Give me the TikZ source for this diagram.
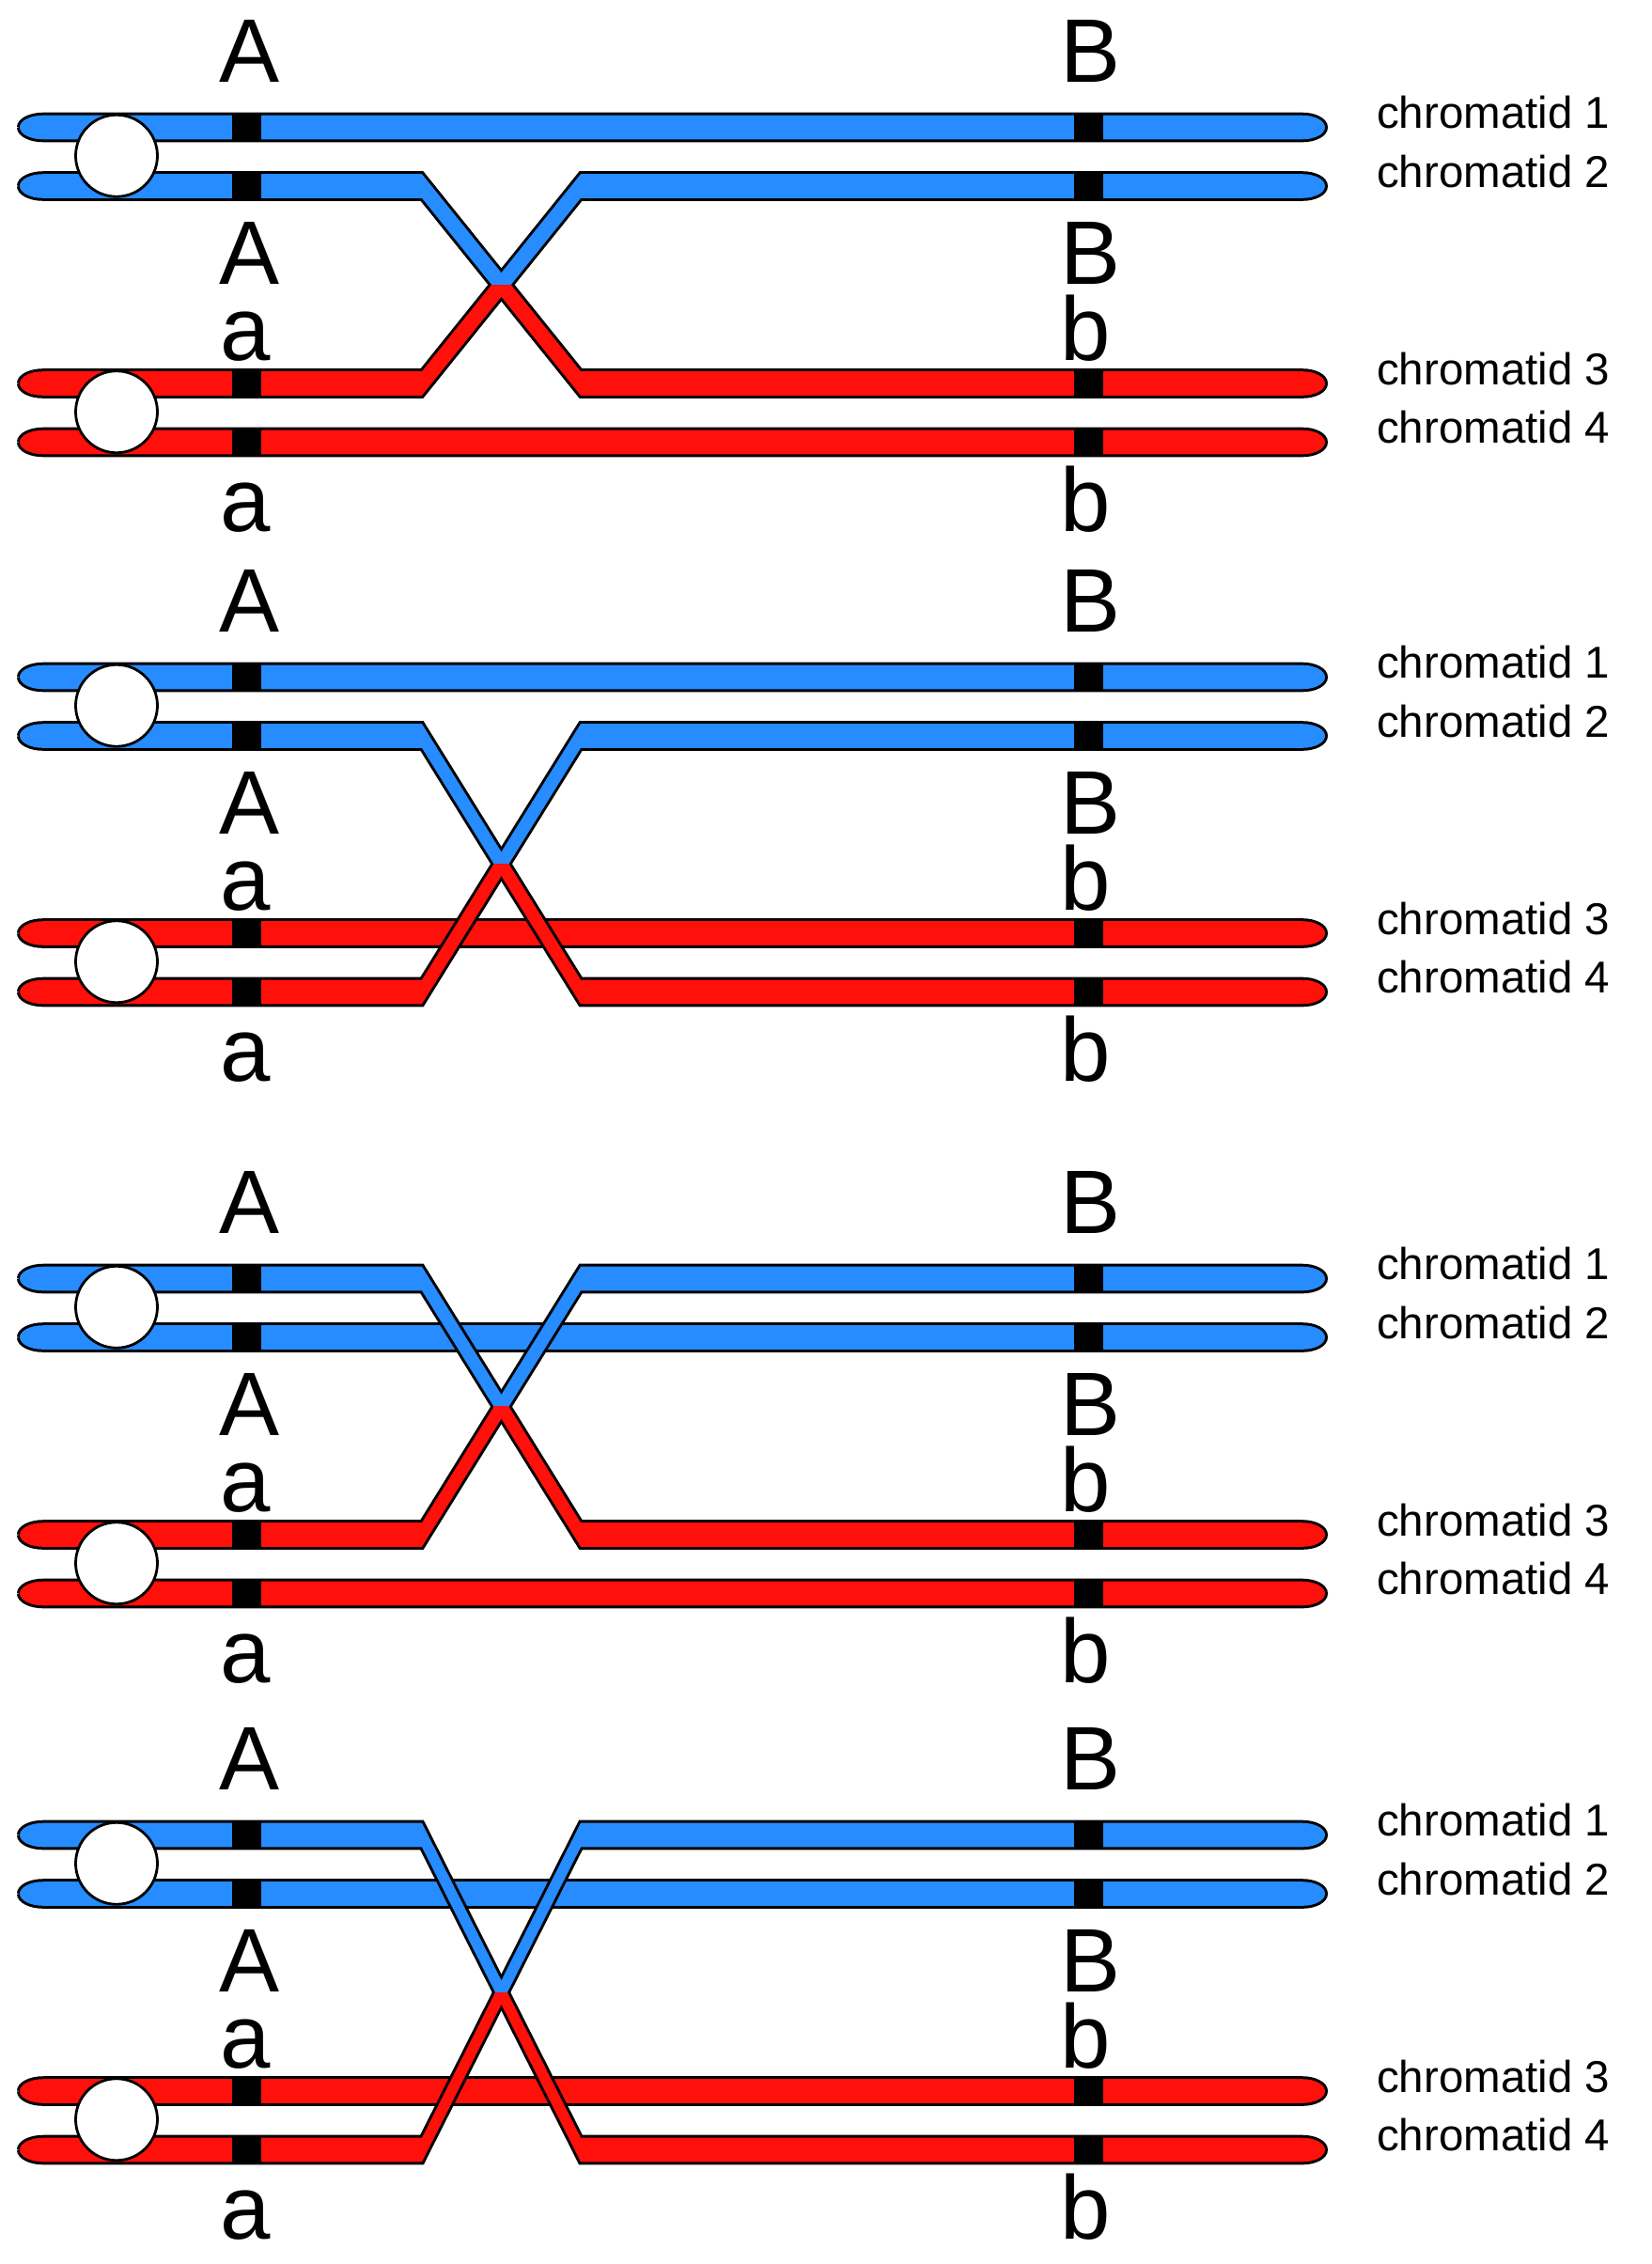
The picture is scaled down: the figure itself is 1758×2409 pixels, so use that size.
\documentclass[tikz,border=0pt]{standalone}
\usepackage{fontspec}
\setmainfont{Liberation Sans}
\definecolor{cblue}{RGB}{38,140,255}
\definecolor{cred}{RGB}{255,16,10}
\tikzset{
  outl/.style={draw=black,line width=6pt,line join=miter},
  locus/.style={fill=black},
  centro/.style={draw=black,line width=2.8pt,fill=white},
  big/.style={font=\fontsize{96}{96}\selectfont,inner sep=0pt,anchor=base},
  lab/.style={font=\fontsize{47.5}{47.5}\selectfont,inner sep=0pt,anchor=base west}
}
\def\chh{12.8}
\def\cxA{46}
\def\cxB{1386}
\def\crL{25}
\def\crR{24}
\newcommand{\strandpath}[2]{(\cxA-\crL,#1) .. controls (\cxA-\crL,#1-0.5523*\chh) and (\cxA-0.5523*\crL,#1-\chh) .. (\cxA,#1-\chh) -- (449,#1-\chh) -- (618,#2-\chh) -- (\cxB,#2-\chh) .. controls (\cxB+0.5523*\crR,#2-\chh) and (\cxB+\crR,#2-0.5523*\chh) .. (\cxB+\crR,#2) .. controls (\cxB+\crR,#2+0.5523*\chh) and (\cxB+0.5523*\crR,#2+\chh) .. (\cxB,#2+\chh) -- (618,#2+\chh) -- (449,#1+\chh) -- (\cxA,#1+\chh) .. controls (\cxA-0.5523*\crL,#1+\chh) and (\cxA-\crL,#1+0.5523*\chh) .. (\cxA-\crL,#1)}
% #1 id, #2 offset, #3 straight y, #4 colour, #5 straight y, #6 colour, #7 upper crossing y, #8 lower crossing y
\newcommand{\drawpanel}[8]{%
  \pgfmathsetmacro{\pya}{#2+135.5}%
  \pgfmathsetmacro{\pyb}{#2+198}%
  \pgfmathsetmacro{\pyc}{#2+408}%
  \pgfmathsetmacro{\pyd}{#2+470.5}%
  \pgfmathsetmacro{\pym}{(#7+#8)/2}%
  \pgfmathsetmacro{\pcu}{(\pya+\pyb)/2-1}%
  \pgfmathsetmacro{\pcl}{(\pyc+\pyd)/2-1}%
  \draw[outl] \strandpath{#3}{#3};
  \fill[#4] \strandpath{#3}{#3};
  \draw[outl] \strandpath{#5}{#5};
  \fill[#6] \strandpath{#5}{#5};
  \draw[outl] \strandpath{#7}{#8};
  \draw[outl] \strandpath{#8}{#7};
  \begin{scope}
    \clip (0,\pym-400) rectangle (1758,\pym+1);
    \fill[cblue] \strandpath{#7}{#8};
    \fill[cblue] \strandpath{#8}{#7};
  \end{scope}
  \begin{scope}
    \clip (0,\pym) rectangle (1758,\pym+400);
    \fill[cred] \strandpath{#7}{#8};
    \fill[cred] \strandpath{#8}{#7};
  \end{scope}
  \foreach \yy in {\pya,\pyb,\pyc,\pyd}{
    \fill[locus] (247,\yy-15.5) rectangle (277.5,\yy+15.5);
    \fill[locus] (1143,\yy-15.5) rectangle (1174,\yy+15.5);
  }
  \draw[centro] (124,\pcu) circle[radius=43.5];
  \draw[centro] (124,\pcl) circle[radius=43.5];
  \node[big] (Atop#1) at (266,#2+87) {A};
  \node[big] (Btop#1) at (1161,#2+87) {B};
  \node[big] (Alow#1) at (266,#2+302) {A};
  \node[big] (Blow#1) at (1161,#2+302) {B};
  \node[big] (atop#1) at (261,#2+383) {a};
  \node[big] (btop#1) at (1155,#2+383) {b};
  \node[big] (alow#1) at (261,#2+565) {a};
  \node[big] (blow#1) at (1155,#2+565) {b};
  \node[lab] (ca#1) at (1465,\pya+1) {chromatid 1};
  \node[lab] (cb#1) at (1465,\pyb+1) {chromatid 2};
  \node[lab] (cc#1) at (1465,\pyc+1) {chromatid 3};
  \node[lab] (cd#1) at (1465,\pyd+1) {chromatid 4};
}
\begin{document}
\begin{tikzpicture}[x=1pt,y=-1pt]
\useasboundingbox (0,0) rectangle (1758,2409);
\fill[white] (0,0) rectangle (1758,2409);
\drawpanel{p}{0}{135.5}{cblue}{470.5}{cred}{198}{408}
\drawpanel{q}{585}{720.5}{cblue}{993}{cred}{783}{1055.5}
\drawpanel{r}{1225}{1423}{cblue}{1695.5}{cred}{1360.5}{1633}
\drawpanel{s}{1817}{2015}{cblue}{2225}{cred}{1952.5}{2287.5}
\end{tikzpicture}
\end{document}
